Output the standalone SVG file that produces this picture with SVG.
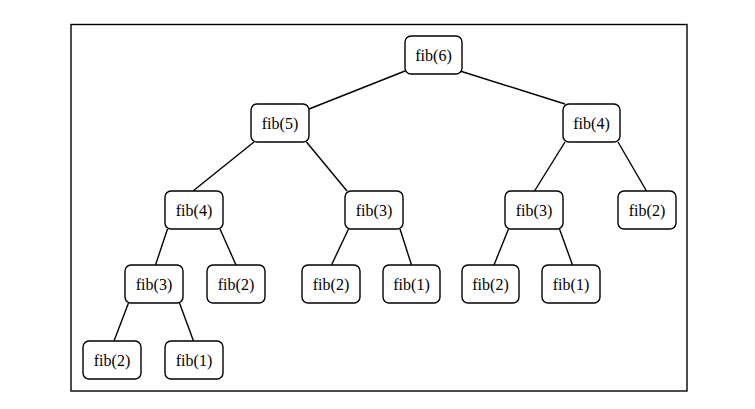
<svg xmlns="http://www.w3.org/2000/svg" width="755" height="409" viewBox="0 0 755 409">
<style>
.n rect{fill:#fff;stroke:#000;stroke-width:1.4}
.n text{font-family:"Liberation Serif","Times New Roman",serif;font-size:16px;text-anchor:middle;fill:#000}
#edges line{stroke:#000;stroke-width:1.4}
</style>
<rect x="71" y="24.5" width="616" height="366.5" fill="#fff" stroke="#000" stroke-width="1.4"/>
<g id="edges">
<line x1="405" y1="71" x2="309" y2="109"/>
<line x1="460" y1="71" x2="565" y2="104"/>
<line x1="254" y1="142" x2="193" y2="191"/>
<line x1="306.5" y1="142" x2="347" y2="191"/>
<line x1="565" y1="142" x2="534.5" y2="191"/>
<line x1="618" y1="142" x2="646.5" y2="191"/>
<line x1="167.5" y1="229" x2="155.5" y2="265"/>
<line x1="220" y1="229" x2="236" y2="265"/>
<line x1="348.5" y1="229" x2="331.5" y2="265"/>
<line x1="400" y1="229" x2="411.5" y2="265"/>
<line x1="508.5" y1="229" x2="494" y2="265"/>
<line x1="559.5" y1="229" x2="572.5" y2="265"/>
<line x1="128.5" y1="303" x2="114" y2="341"/>
<line x1="179.5" y1="303" x2="193.5" y2="341"/>
</g>
<g id="n6" class="n"><rect x="405" y="36" width="57" height="38" rx="6"/><text x="433.5" y="60.5">fib(6)</text></g>
<g id="n5" class="n"><rect x="251" y="104" width="58" height="38" rx="6"/><text x="280" y="128.5">fib(5)</text></g>
<g id="n4a" class="n"><rect x="563" y="104" width="57" height="38" rx="6"/><text x="591.5" y="128.5">fib(4)</text></g>
<g id="n4b" class="n"><rect x="165" y="191" width="58" height="38" rx="6"/><text x="194" y="215.5">fib(4)</text></g>
<g id="n3a" class="n"><rect x="345" y="191" width="58" height="38" rx="6"/><text x="374" y="215.5">fib(3)</text></g>
<g id="n3b" class="n"><rect x="505" y="191" width="58" height="38" rx="6"/><text x="534" y="215.5">fib(3)</text></g>
<g id="n2a" class="n"><rect x="618" y="191" width="58" height="38" rx="6"/><text x="647" y="215.5">fib(2)</text></g>
<g id="n3c" class="n"><rect x="125" y="265" width="58" height="38" rx="6"/><text x="154" y="289.5">fib(3)</text></g>
<g id="n2b" class="n"><rect x="207" y="265" width="58" height="38" rx="6"/><text x="236" y="289.5">fib(2)</text></g>
<g id="n2c" class="n"><rect x="302" y="265" width="58" height="38" rx="6"/><text x="331" y="289.5">fib(2)</text></g>
<g id="n1a" class="n"><rect x="383" y="265" width="57" height="38" rx="6"/><text x="411.5" y="289.5">fib(1)</text></g>
<g id="n2d" class="n"><rect x="462" y="265" width="57" height="38" rx="6"/><text x="490.5" y="289.5">fib(2)</text></g>
<g id="n1b" class="n"><rect x="542" y="265" width="58" height="38" rx="6"/><text x="571" y="289.5">fib(1)</text></g>
<g id="n2e" class="n"><rect x="83" y="341" width="58" height="38" rx="6"/><text x="112" y="365.5">fib(2)</text></g>
<g id="n1c" class="n"><rect x="165" y="341" width="58" height="38" rx="6"/><text x="194" y="365.5">fib(1)</text></g>
</svg>
